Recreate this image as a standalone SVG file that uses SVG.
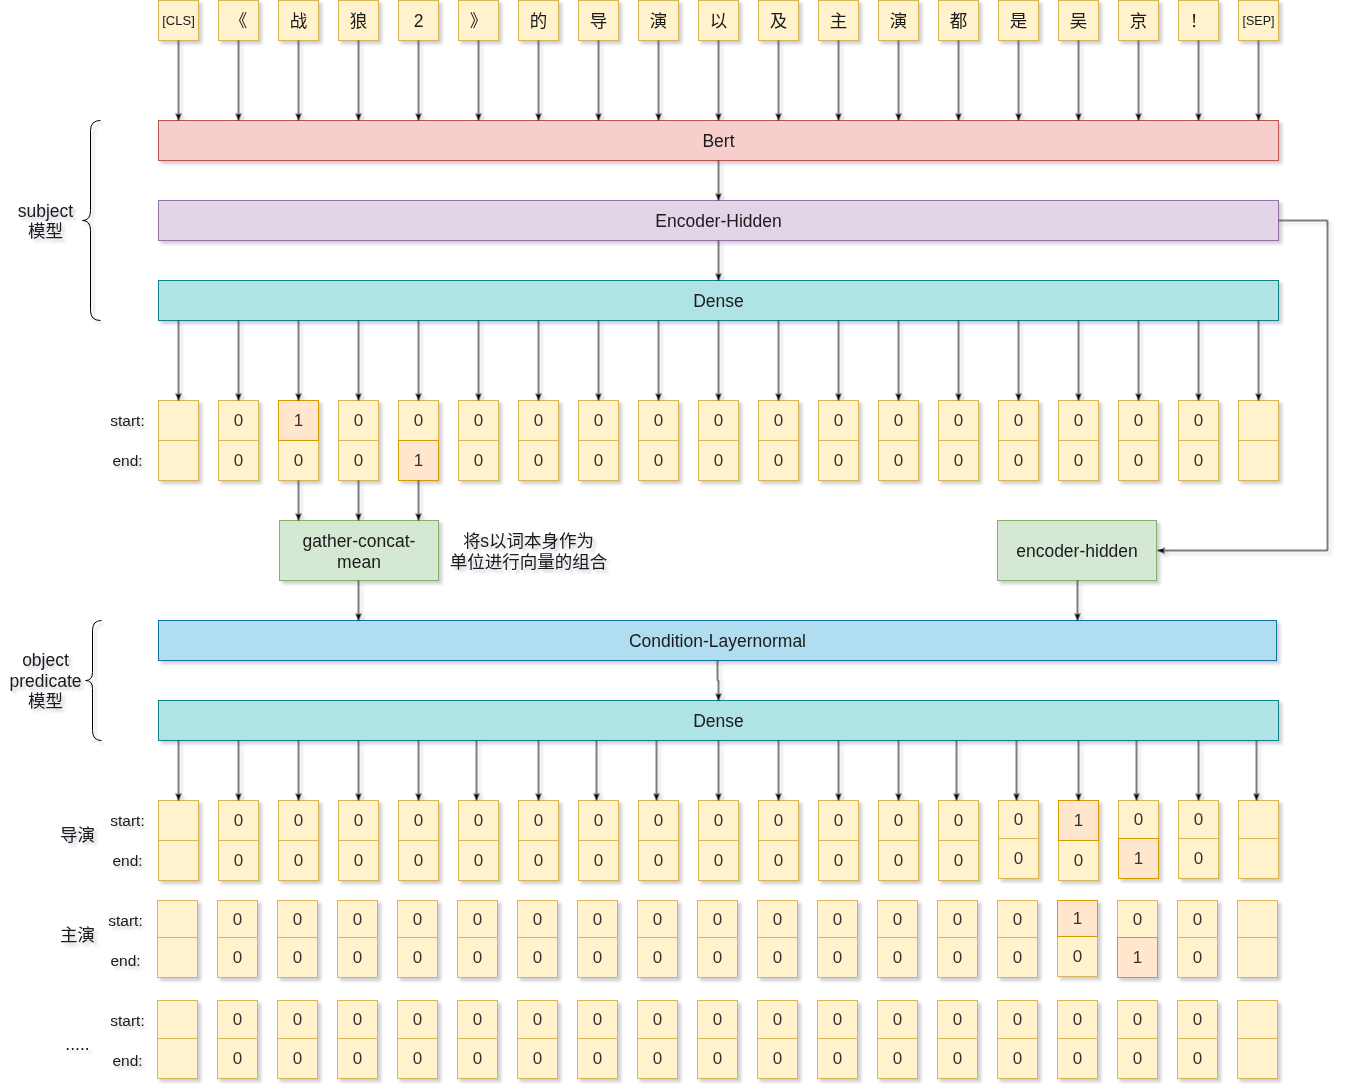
<svg xmlns="http://www.w3.org/2000/svg" xmlns:xlink="http://www.w3.org/1999/xlink" width="1347" height="1090" viewBox="0 0 1347 1090">
<style>
.c{fill:#fff2cc;stroke:#d6b656;stroke-width:1}
.h{fill:#ffe6cc;stroke:#d79b00;stroke-width:1}
.t{font-family:"Liberation Sans","Noto Sans CJK SC",sans-serif;font-size:17.5px;fill:#1a1a1a;text-anchor:middle;dominant-baseline:central}
.n{font-family:"Liberation Sans",sans-serif;font-size:17px;fill:#333;text-anchor:middle;dominant-baseline:central}
.lb{font-family:"Liberation Sans",sans-serif;font-size:15.5px;fill:#1a1a1a;text-anchor:middle;dominant-baseline:central}
.sm{font-family:"Liberation Sans",sans-serif;font-size:13px;fill:#1a1a1a;text-anchor:middle;dominant-baseline:central}
.ln{fill:none;stroke:#000;stroke-width:1;marker-end:url(#ar)}
.br{fill:none;stroke:#000;stroke-width:1}
</style>
<defs>
<filter id="sh" filterUnits="userSpaceOnUse" x="0" y="0" width="1347" height="1090">
<feDropShadow dx="3" dy="3" stdDeviation="1.6" flood-color="#1a2040" flood-opacity="0.22"/>
</filter>
<marker id="ar" viewBox="0 0 10 10" refX="9.5" refY="5" markerWidth="8" markerHeight="8" markerUnits="userSpaceOnUse" orient="auto">
<path d="M0,1 L9.5,5 L0,9 L2.5,5 z" fill="#000"/>
</marker>
<g id="z40"><rect class="c" width="40" height="40"/><rect class="c" y="40" width="40" height="40"/><text class="n" x="20" y="20">0</text><text class="n" x="20" y="60">0</text></g>
<g id="z38"><rect class="c" width="40" height="38"/><rect class="c" y="38" width="40" height="40"/><text class="n" x="20" y="19">0</text><text class="n" x="20" y="58">0</text></g>
<g id="z37"><rect class="c" width="40" height="37"/><rect class="c" y="37" width="40" height="40"/><text class="n" x="20" y="18.5">0</text><text class="n" x="20" y="57">0</text></g>
<g id="e40"><rect class="c" width="40" height="40"/><rect class="c" y="40" width="40" height="40"/></g>
<g id="e38"><rect class="c" width="40" height="38"/><rect class="c" y="38" width="40" height="40"/></g>
<g id="e37"><rect class="c" width="40" height="37"/><rect class="c" y="37" width="40" height="40"/></g>
</defs>
<rect width="1347" height="1090" fill="#ffffff"/>
<g transform="translate(0.5,0.5)" filter="url(#sh)">

<g id="tokens">
<g id="tok0"><rect class="c" x="158" y="0" width="40" height="40"/><text class="sm" x="178" y="20">[CLS]</text></g>
<g id="tok1"><rect class="c" x="218" y="0" width="40" height="40"/><text class="t" x="238" y="20">《</text></g>
<g id="tok2"><rect class="c" x="278" y="0" width="40" height="40"/><text class="t" x="298" y="20">战</text></g>
<g id="tok3"><rect class="c" x="338" y="0" width="40" height="40"/><text class="t" x="358" y="20">狼</text></g>
<g id="tok4"><rect class="c" x="398" y="0" width="40" height="40"/><text class="t" x="418" y="20">2</text></g>
<g id="tok5"><rect class="c" x="458" y="0" width="40" height="40"/><text class="t" x="478" y="20">》</text></g>
<g id="tok6"><rect class="c" x="518" y="0" width="40" height="40"/><text class="t" x="538" y="20">的</text></g>
<g id="tok7"><rect class="c" x="578" y="0" width="40" height="40"/><text class="t" x="598" y="20">导</text></g>
<g id="tok8"><rect class="c" x="638" y="0" width="40" height="40"/><text class="t" x="658" y="20">演</text></g>
<g id="tok9"><rect class="c" x="698" y="0" width="40" height="40"/><text class="t" x="718" y="20">以</text></g>
<g id="tok10"><rect class="c" x="758" y="0" width="40" height="40"/><text class="t" x="778" y="20">及</text></g>
<g id="tok11"><rect class="c" x="818" y="0" width="40" height="40"/><text class="t" x="838" y="20">主</text></g>
<g id="tok12"><rect class="c" x="878" y="0" width="40" height="40"/><text class="t" x="898" y="20">演</text></g>
<g id="tok13"><rect class="c" x="938" y="0" width="40" height="40"/><text class="t" x="958" y="20">都</text></g>
<g id="tok14"><rect class="c" x="998" y="0" width="40" height="40"/><text class="t" x="1018" y="20">是</text></g>
<g id="tok15"><rect class="c" x="1058" y="0" width="40" height="40"/><text class="t" x="1078" y="20">吴</text></g>
<g id="tok16"><rect class="c" x="1118" y="0" width="40" height="40"/><text class="t" x="1138" y="20">京</text></g>
<g id="tok17"><rect class="c" x="1178" y="0" width="40" height="40"/><text class="t" x="1198" y="20">！</text></g>
<g id="tok18"><rect class="c" x="1238" y="0" width="40" height="40"/><text class="sm" x="1258" y="20" style="font-size:12.5px">[SEP]</text></g>
</g>

<g id="bert"><rect x="158" y="120" width="1120" height="40" fill="#f8cecc" stroke="#b85450"/><text class="t" x="718" y="140">Bert</text></g>
<g id="encoder-hidden-big"><rect x="158" y="200" width="1120" height="40" fill="#e1d5e7" stroke="#9673a6"/><text class="t" x="718" y="220">Encoder-Hidden</text></g>
<g id="dense1"><rect x="158" y="280" width="1120" height="40" fill="#b0e3e6" stroke="#0e8088"/><text class="t" x="718" y="300">Dense</text></g>

<g id="subject-label">
<path class="br" d="M100,120 Q90,120 90,130 V210 Q90,220 82,220 Q90,220 90,230 V310 Q90,320 100,320"/>
<text class="t" x="45" y="210">subject</text><text class="t" x="45" y="230">模型</text>
</g>

<g id="row1">
<text class="lb" x="127" y="420">start:</text><text class="lb" x="127" y="460">end:</text>
<g id="r1c0"><use xlink:href="#e40" x="158" y="400"/></g>
<g id="r1c1"><use xlink:href="#z40" x="218" y="400"/></g>
<g id="r1c2"><rect class="c" x="278" y="440" width="40" height="40"/><rect class="h" x="278" y="400" width="40" height="40"/><text class="n" x="298" y="420">1</text><text class="n" x="298" y="460">0</text></g>
<g id="r1c3"><use xlink:href="#z40" x="338" y="400"/></g>
<g id="r1c4"><rect class="c" x="398" y="400" width="40" height="40"/><rect class="h" x="398" y="440" width="40" height="40"/><text class="n" x="418" y="420">0</text><text class="n" x="418" y="460">1</text></g>
<g id="r1c5"><use xlink:href="#z40" x="458" y="400"/></g>
<g id="r1c6"><use xlink:href="#z40" x="518" y="400"/></g>
<g id="r1c7"><use xlink:href="#z40" x="578" y="400"/></g>
<g id="r1c8"><use xlink:href="#z40" x="638" y="400"/></g>
<g id="r1c9"><use xlink:href="#z40" x="698" y="400"/></g>
<g id="r1c10"><use xlink:href="#z40" x="758" y="400"/></g>
<g id="r1c11"><use xlink:href="#z40" x="818" y="400"/></g>
<g id="r1c12"><use xlink:href="#z40" x="878" y="400"/></g>
<g id="r1c13"><use xlink:href="#z40" x="938" y="400"/></g>
<g id="r1c14"><use xlink:href="#z40" x="998" y="400"/></g>
<g id="r1c15"><use xlink:href="#z40" x="1058" y="400"/></g>
<g id="r1c16"><use xlink:href="#z40" x="1118" y="400"/></g>
<g id="r1c17"><use xlink:href="#z40" x="1178" y="400"/></g>
<g id="r1c18"><use xlink:href="#e40" x="1238" y="400"/></g>
</g>

<g id="gather"><rect x="279" y="520" width="159" height="60" fill="#d5e8d4" stroke="#82b366"/><text class="t" x="358.5" y="540">gather-concat-</text><text class="t" x="358.5" y="561">mean</text></g>
<g id="gather-note"><text class="t" x="528" y="540">将s以词本身作为</text><text class="t" x="528" y="561">单位进行向量的组合</text></g>
<g id="encoder-hidden-small"><rect x="997" y="520" width="159" height="60" fill="#d5e8d4" stroke="#82b366"/><text class="t" x="1076.5" y="550">encoder-hidden</text></g>

<g id="cond"><rect x="158" y="620" width="1118" height="40" fill="#b1ddf0" stroke="#10739e"/><text class="t" x="717" y="640">Condition-Layernormal</text></g>
<g id="dense2"><rect x="158" y="700" width="1120" height="40" fill="#b0e3e6" stroke="#0e8088"/><text class="t" x="718" y="720">Dense</text></g>

<g id="object-label">
<path class="br" d="M101,620 Q92,620 92,630 V672 Q92,680 85,680 Q92,680 92,688 V730 Q92,740 101,740"/>
<text class="t" x="45" y="659">object</text><text class="t" x="45" y="680">predicate</text><text class="t" x="45" y="700">模型</text>
</g>

<g id="rowA">
<text class="t" x="77" y="834">导演</text>
<text class="lb" x="127" y="820">start:</text><text class="lb" x="127" y="860">end:</text>
<g id="rAc0"><use xlink:href="#e40" x="158" y="800"/></g>
<g id="rAc1"><use xlink:href="#z40" x="218" y="800"/></g>
<g id="rAc2"><use xlink:href="#z40" x="278" y="800"/></g>
<g id="rAc3"><use xlink:href="#z40" x="338" y="800"/></g>
<g id="rAc4"><use xlink:href="#z40" x="398" y="800"/></g>
<g id="rAc5"><use xlink:href="#z40" x="458" y="800"/></g>
<g id="rAc6"><use xlink:href="#z40" x="518" y="800"/></g>
<g id="rAc7"><use xlink:href="#z40" x="578" y="800"/></g>
<g id="rAc8"><use xlink:href="#z40" x="638" y="800"/></g>
<g id="rAc9"><use xlink:href="#z40" x="698" y="800"/></g>
<g id="rAc10"><use xlink:href="#z40" x="758" y="800"/></g>
<g id="rAc11"><use xlink:href="#z40" x="818" y="800"/></g>
<g id="rAc12"><use xlink:href="#z40" x="878" y="800"/></g>
<g id="rAc13"><use xlink:href="#z40" x="938" y="800"/></g>
<g id="rAc14"><use xlink:href="#z38" x="998" y="800"/></g>
<g id="rAc15"><rect class="c" x="1058" y="840" width="40" height="40"/><rect class="h" x="1058" y="800" width="40" height="40"/><text class="n" x="1078" y="820">1</text><text class="n" x="1078" y="860">0</text></g>
<g id="rAc16"><rect class="c" x="1118" y="800" width="40" height="38"/><rect class="h" x="1118" y="838" width="40" height="40"/><text class="n" x="1138" y="819">0</text><text class="n" x="1138" y="858">1</text></g>
<g id="rAc17"><use xlink:href="#z38" x="1178" y="800"/></g>
<g id="rAc18"><use xlink:href="#e38" x="1238" y="800"/></g>
</g>

<g id="rowB">
<text class="t" x="77" y="934">主演</text>
<text class="lb" x="125" y="920">start:</text><text class="lb" x="125" y="960">end:</text>
<g id="rBc0"><use xlink:href="#e37" x="157" y="900"/></g>
<g id="rBc1"><use xlink:href="#z37" x="217" y="900"/></g>
<g id="rBc2"><use xlink:href="#z37" x="277" y="900"/></g>
<g id="rBc3"><use xlink:href="#z37" x="337" y="900"/></g>
<g id="rBc4"><use xlink:href="#z37" x="397" y="900"/></g>
<g id="rBc5"><use xlink:href="#z37" x="457" y="900"/></g>
<g id="rBc6"><use xlink:href="#z37" x="517" y="900"/></g>
<g id="rBc7"><use xlink:href="#z37" x="577" y="900"/></g>
<g id="rBc8"><use xlink:href="#z37" x="637" y="900"/></g>
<g id="rBc9"><use xlink:href="#z37" x="697" y="900"/></g>
<g id="rBc10"><use xlink:href="#z37" x="757" y="900"/></g>
<g id="rBc11"><use xlink:href="#z37" x="817" y="900"/></g>
<g id="rBc12"><use xlink:href="#z37" x="877" y="900"/></g>
<g id="rBc13"><use xlink:href="#z37" x="937" y="900"/></g>
<g id="rBc14"><use xlink:href="#z37" x="997" y="900"/></g>
<g id="rBc15"><rect class="c" x="1057" y="936" width="40" height="40"/><rect class="h" x="1057" y="900" width="40" height="36"/><text class="n" x="1077" y="918">1</text><text class="n" x="1077" y="956">0</text></g>
<g id="rBc16"><rect class="c" x="1117" y="900" width="40" height="37"/><rect class="h" x="1117" y="937" width="40" height="40"/><text class="n" x="1137" y="918.5">0</text><text class="n" x="1137" y="957">1</text></g>
<g id="rBc17"><use xlink:href="#z37" x="1177" y="900"/></g>
<g id="rBc18"><use xlink:href="#e37" x="1237" y="900"/></g>
</g>

<g id="rowC">
<text class="t" x="77" y="1043">.....</text>
<text class="lb" x="127" y="1020">start:</text><text class="lb" x="127" y="1060">end:</text>
<g id="rCc0"><use xlink:href="#e38" x="157" y="1000"/></g>
<g id="rCc1"><use xlink:href="#z38" x="217" y="1000"/></g>
<g id="rCc2"><use xlink:href="#z38" x="277" y="1000"/></g>
<g id="rCc3"><use xlink:href="#z38" x="337" y="1000"/></g>
<g id="rCc4"><use xlink:href="#z38" x="397" y="1000"/></g>
<g id="rCc5"><use xlink:href="#z38" x="457" y="1000"/></g>
<g id="rCc6"><use xlink:href="#z38" x="517" y="1000"/></g>
<g id="rCc7"><use xlink:href="#z38" x="577" y="1000"/></g>
<g id="rCc8"><use xlink:href="#z38" x="637" y="1000"/></g>
<g id="rCc9"><use xlink:href="#z38" x="697" y="1000"/></g>
<g id="rCc10"><use xlink:href="#z38" x="757" y="1000"/></g>
<g id="rCc11"><use xlink:href="#z38" x="817" y="1000"/></g>
<g id="rCc12"><use xlink:href="#z38" x="877" y="1000"/></g>
<g id="rCc13"><use xlink:href="#z38" x="937" y="1000"/></g>
<g id="rCc14"><use xlink:href="#z38" x="997" y="1000"/></g>
<g id="rCc15"><use xlink:href="#z38" x="1057" y="1000"/></g>
<g id="rCc16"><use xlink:href="#z38" x="1117" y="1000"/></g>
<g id="rCc17"><use xlink:href="#z38" x="1177" y="1000"/></g>
<g id="rCc18"><use xlink:href="#e38" x="1237" y="1000"/></g>
</g>

<g id="connectors">
<path class="ln" d="M178,40V120"/><path class="ln" d="M238,40V120"/><path class="ln" d="M298,40V120"/><path class="ln" d="M358,40V120"/><path class="ln" d="M418,40V120"/><path class="ln" d="M478,40V120"/><path class="ln" d="M538,40V120"/><path class="ln" d="M598,40V120"/><path class="ln" d="M658,40V120"/><path class="ln" d="M718,40V120"/><path class="ln" d="M778,40V120"/><path class="ln" d="M838,40V120"/><path class="ln" d="M898,40V120"/><path class="ln" d="M958,40V120"/><path class="ln" d="M1018,40V120"/><path class="ln" d="M1078,40V120"/><path class="ln" d="M1138,40V120"/><path class="ln" d="M1198,40V120"/><path class="ln" d="M1258,40V120"/>
<path class="ln" d="M718,160V200"/>
<path class="ln" d="M718,240V280"/>
<path class="ln" d="M178,320V400"/><path class="ln" d="M238,320V400"/><path class="ln" d="M298,320V400"/><path class="ln" d="M358,320V400"/><path class="ln" d="M418,320V400"/><path class="ln" d="M478,320V400"/><path class="ln" d="M538,320V400"/><path class="ln" d="M598,320V400"/><path class="ln" d="M658,320V400"/><path class="ln" d="M718,320V400"/><path class="ln" d="M778,320V400"/><path class="ln" d="M838,320V400"/><path class="ln" d="M898,320V400"/><path class="ln" d="M958,320V400"/><path class="ln" d="M1018,320V400"/><path class="ln" d="M1078,320V400"/><path class="ln" d="M1138,320V400"/><path class="ln" d="M1198,320V400"/><path class="ln" d="M1258,320V400"/>
<path class="ln" d="M298,480V520"/><path class="ln" d="M358,480V520"/><path class="ln" d="M418,480V520"/>
<path class="ln" d="M1278,220H1327V550H1157"/>
<path class="ln" d="M358,580V620"/>
<path class="ln" d="M1077,580V620"/>
<path class="ln" d="M717,660V680H718V700"/>
<path class="ln" d="M178,740V800"/><path class="ln" d="M238,740V800"/><path class="ln" d="M298,740V800"/><path class="ln" d="M358,740V800"/><path class="ln" d="M418,740V800"/><path class="ln" d="M476,740V800"/><path class="ln" d="M538,740V800"/><path class="ln" d="M596,740V800"/><path class="ln" d="M656,740V800"/><path class="ln" d="M718,740V800"/><path class="ln" d="M778,740V800"/><path class="ln" d="M838,740V800"/><path class="ln" d="M898,740V800"/><path class="ln" d="M956,740V800"/><path class="ln" d="M1016,740V800"/><path class="ln" d="M1078,740V800"/><path class="ln" d="M1136,740V800"/><path class="ln" d="M1198,740V800"/><path class="ln" d="M1256,740V800"/>
</g>
</g>
</svg>
